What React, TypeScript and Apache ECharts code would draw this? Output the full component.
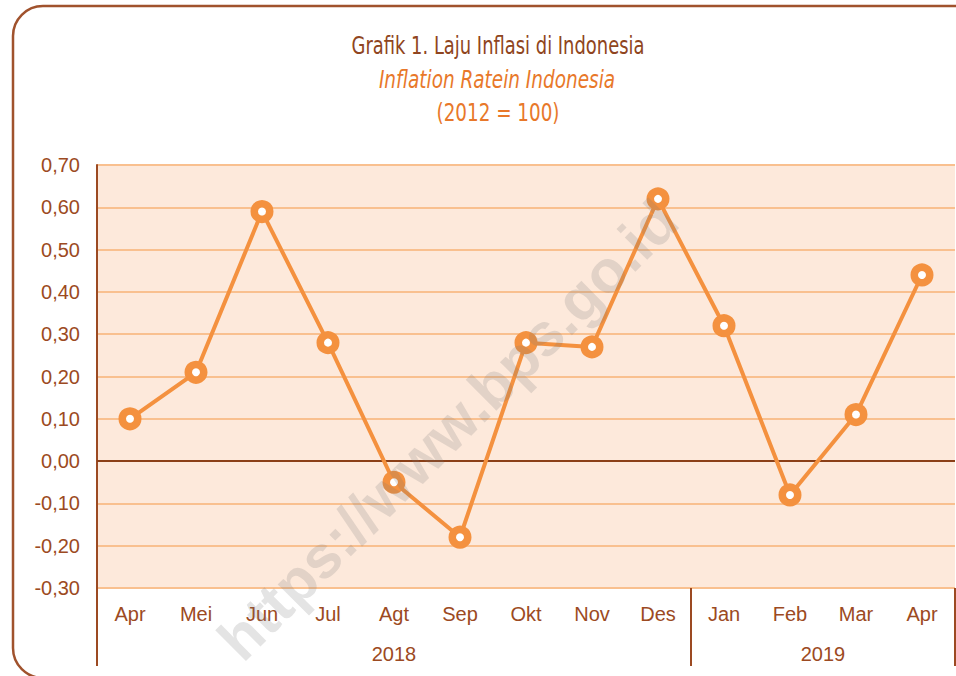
import React, { useEffect, useRef } from "react";
import * as echarts from "echarts";

const months = ["Apr", "Mei", "Jun", "Jul", "Agt", "Sep", "Okt", "Nov", "Des", "Jan", "Feb", "Mar", "Apr"];
const inflation = [0.10, 0.21, 0.59, 0.28, -0.05, -0.18, 0.28, 0.27, 0.62, 0.32, -0.08, 0.11, 0.44];
const years = ["2018", "2019"];
const yearBoundaries = [0, 9, 13];
const yearCenters = [4.5, 11];
const titleLines = ["Grafik 1. Laju Inflasi di Indonesia", "Inflation Ratein Indonesia", "(2012 = 100)"];

const BROWN = "#9c4a22";
const ORANGE = "#f4913f";

export default function App() {
  const ref = useRef<HTMLDivElement>(null);
  useEffect(() => {
    if (!ref.current) return;
    const chart = echarts.init(ref.current, null, { renderer: "svg" });
    const narrow = "'DejaVu Sans Condensed', 'Roboto', sans-serif";
    chart.setOption({
      animation: false,
      backgroundColor: "#ffffff",
      grid: {
        left: 97,
        top: 165,
        width: 858,
        height: 423,
        show: true,
        backgroundColor: "#fde9db",
        borderWidth: 0,
      },
      xAxis: [
        {
          type: "category",
          data: months,
          boundaryGap: true,
          axisLine: { show: false },
          axisTick: { show: false },
          axisLabel: {
            margin: 16,
            fontSize: 20,
            color: BROWN,
            fontFamily: "'Liberation Sans', Arial, sans-serif",
          },
          splitLine: { show: false },
        },
        {
          type: "value",
          min: 0,
          max: 13,
          position: "bottom",
          axisLine: { show: false },
          splitLine: { show: false },
          axisTick: {
            show: true,
            customValues: yearBoundaries,
            length: 78,
            lineStyle: { color: BROWN, width: 2 },
          },
          axisLabel: {
            customValues: yearCenters,
            margin: 56,
            fontSize: 20,
            color: BROWN,
            fontFamily: "'Liberation Sans', Arial, sans-serif",
            formatter: (v: number) => (v < yearBoundaries[1] ? years[0] : years[1]),
          },
        },
      ],
      yAxis: {
        type: "value",
        min: -0.3,
        max: 0.7,
        interval: 0.1,
        axisLine: { show: true, lineStyle: { color: BROWN, width: 2 } },
        axisTick: { show: false },
        axisLabel: {
          margin: 17,
          fontSize: 20,
          color: BROWN,
          fontFamily: "'Liberation Sans', Arial, sans-serif",
          formatter: (v: number) => v.toFixed(2).replace(".", ","),
        },
        splitLine: { show: true, lineStyle: { color: "#f9c08f", width: 2 } },
      },
      series: [
        {
          type: "line",
          data: inflation,
          xAxisIndex: 0,
          symbol: "circle",
          symbolSize: 15.5,
          lineStyle: { color: ORANGE, width: 4 },
          itemStyle: { color: "#ffffff", borderColor: ORANGE, borderWidth: 7.5 },
          z: 5,
          markLine: {
            silent: true,
            symbol: "none",
            label: { show: false },
            lineStyle: { color: "#8b3f17", width: 2, type: "solid" },
            data: [{ yAxis: 0 }],
            z: 3,
          },
        },
      ],
      graphic: [
        {
          type: "rect",
          shape: { x: 13, y: 6, width: 1000, height: 672, r: 30 },
          style: { fill: "none", stroke: "#a0522d", lineWidth: 2.5 },
          silent: true,
          z: 0,
        },
        {
          type: "text",
          x: 498,
          y: 46,
          scaleX: 0.83,
          style: {
            text: titleLines[0],
            fill: "#8f4520",
            font: `24px ${narrow}`,
            textAlign: "center",
            textVerticalAlign: "middle",
          },
        },
        {
          type: "text",
          x: 497,
          y: 79,
          scaleX: 0.855,
          style: {
            text: titleLines[1],
            fill: "#e8782a",
            font: `italic 24px ${narrow}`,
            textAlign: "center",
            textVerticalAlign: "middle",
          },
        },
        {
          type: "text",
          x: 498,
          y: 112,
          scaleX: 0.85,
          style: {
            text: titleLines[2],
            fill: "#e8782a",
            font: `24px ${narrow}`,
            textAlign: "center",
            textVerticalAlign: "middle",
          },
        },
        {
          type: "text",
          x: 448,
          y: 430,
          rotation: Math.PI / 4,
          style: {
            text: "https://www.bps.go.id",
            fill: "rgba(120,120,120,0.2)",
            font: "bold 60px 'Liberation Sans', Arial, sans-serif",
            textAlign: "center",
            textVerticalAlign: "middle",
          },
          silent: true,
          z: 100,
        },
      ],
    });
    return () => chart.dispose();
  }, []);
  return (
    <div
      ref={ref}
      style={{ position: "fixed", left: 0, top: 0, width: 956, height: 676 }}
    />
  );
}
